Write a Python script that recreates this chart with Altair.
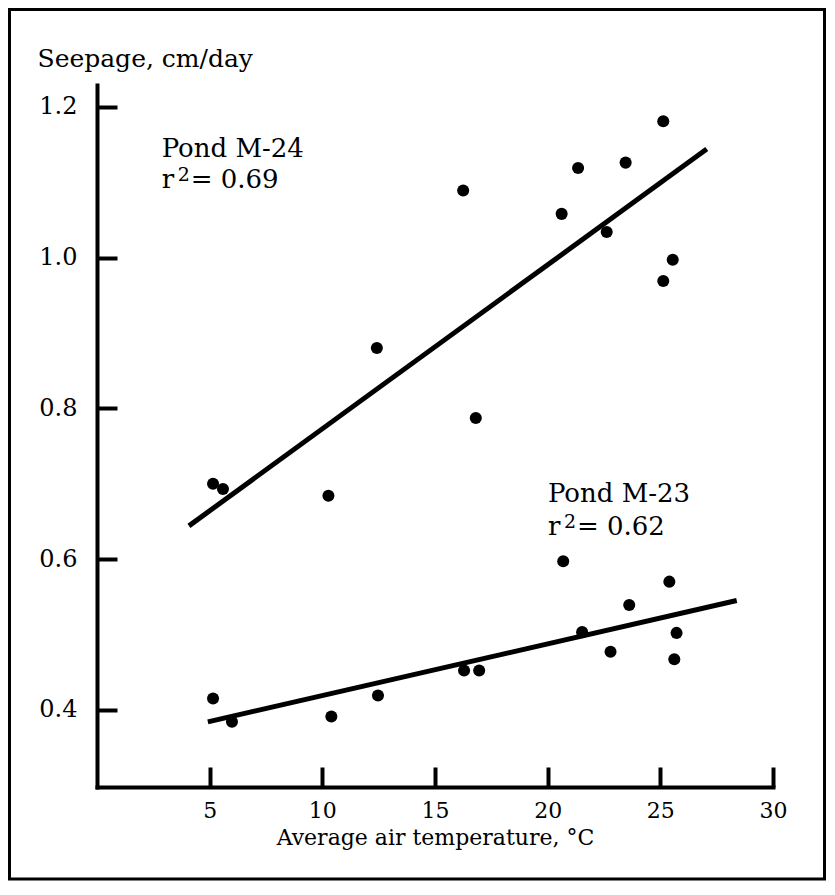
import altair as alt
import pandas as pd

# ---- data ----
m24_temp = [5.15, 5.59, 10.27, 12.42, 16.25, 16.81, 20.62, 21.35, 22.62, 23.46, 25.13, 25.13, 25.55]
m24_seep = [0.700, 0.693, 0.684, 0.880, 1.089, 0.787, 1.058, 1.119, 1.034, 1.126, 1.181, 0.969, 0.997]
m23_temp = [5.15, 5.99, 10.40, 12.47, 16.29, 16.96, 20.69, 21.53, 22.79, 23.62, 25.40, 25.72, 25.62]
m23_seep = [0.415, 0.384, 0.391, 0.419, 0.452, 0.452, 0.597, 0.503, 0.477, 0.539, 0.570, 0.502, 0.467]

m24_fit_temp = [4.08, 27.06]
m24_fit_seep = [0.644, 1.144]
m23_fit_temp = [4.92, 28.39]
m23_fit_seep = [0.384, 0.545]

x_ticks = [5, 10, 15, 20, 25, 30]
y_ticks = [0.4, 0.6, 0.8, 1.0, 1.2]

pond_names = ["Pond M-24", "Pond M-23"]
r2_values = ["= 0.69", "= 0.62"]
label_temp = [2.87, 20.01]
label_seep_1 = [1.133, 0.676]
label_seep_2 = [1.092, 0.632]

FONT = "DejaVu Serif"

points = pd.DataFrame({
    "temp": m24_temp + m23_temp,
    "seep": m24_seep + m23_seep,
    "pond": ["M-24"] * len(m24_temp) + ["M-23"] * len(m23_temp),
})
fits = pd.DataFrame({
    "temp": m24_fit_temp + m23_fit_temp,
    "seep": m24_fit_seep + m23_fit_seep,
    "pond": ["M-24"] * 2 + ["M-23"] * 2,
})
labels = pd.DataFrame({
    "temp": label_temp,
    "seep1": label_seep_1,
    "seep2": label_seep_2,
    "name": pond_names,
    "r2": r2_values,
    "r": ["r", "r"],
    "sup": ["2", "2"],
})

xs = alt.Scale(domain=[0, 30], nice=False, zero=False)
ys = alt.Scale(domain=[0.2975, 1.229], nice=False, zero=False)

main_x_axis = alt.Axis(
    orient="bottom", values=x_ticks, ticks=False, tickSize=0, grid=False,
    domainColor="black", domainWidth=4, domainCap="square",
    labelFont=FONT, labelFontSize=22, labelColor="black", labelPadding=13,
    labelFlush=False, format="d",
    title="Average air temperature, °C", titleFont=FONT, titleFontSize=22,
    titleFontWeight="normal", titleColor="black", titleY=57,
    titleBaseline="alphabetic",
)
main_y_axis = alt.Axis(
    orient="left", values=y_ticks, ticks=False, tickSize=0, grid=False,
    domainColor="black", domainWidth=4, domainCap="square",
    labelFont=FONT, labelFontSize=24, labelColor="black", labelPadding=20,
    labelFlush=False, format=".1f",
    title="Seepage, cm/day", titleFont=FONT, titleFontSize=25,
    titleFontWeight="normal", titleColor="black", titleAngle=0,
    titleAlign="left", titleBaseline="alphabetic", titleX=-60, titleY=-19,
)
tick_x_axis = alt.Axis(
    orient="bottom", offset=-20, values=x_ticks, tickSize=20, tickWidth=4,
    tickColor="black", domain=False, labels=False, grid=False, title="",
)
tick_y_axis = alt.Axis(
    orient="left", offset=-20, values=y_ticks, tickSize=20, tickWidth=4,
    tickColor="black", domain=False, labels=False, grid=False, title="",
)

pts = alt.Chart(points).mark_circle(size=145, color="black", opacity=1).encode(
    x=alt.X("temp:Q", scale=xs, axis=main_x_axis),
    y=alt.Y("seep:Q", scale=ys, axis=main_y_axis),
)

lines = alt.Chart(fits).mark_line(color="black", strokeWidth=5).encode(
    x=alt.X("temp:Q", scale=xs, axis=tick_x_axis),
    y=alt.Y("seep:Q", scale=ys, axis=tick_y_axis),
    detail="pond:N",
)

base_txt = alt.Chart(labels)
name_txt = base_txt.mark_text(align="left", baseline="alphabetic", font=FONT,
                              fontSize=26, color="black").encode(
    x=alt.X("temp:Q", scale=xs, axis=None),
    y=alt.Y("seep1:Q", scale=ys, axis=None),
    text="name:N",
)
r_txt = base_txt.mark_text(align="left", baseline="alphabetic", font=FONT,
                           fontSize=26, color="black").encode(
    x=alt.X("temp:Q", scale=xs, axis=None),
    y=alt.Y("seep2:Q", scale=ys, axis=None),
    text="r:N",
)
sup_txt = base_txt.mark_text(align="left", baseline="alphabetic", font=FONT,
                             fontSize=19, color="black", dx=16, dy=-7).encode(
    x=alt.X("temp:Q", scale=xs, axis=None),
    y=alt.Y("seep2:Q", scale=ys, axis=None),
    text="sup:N",
)
eq_txt = base_txt.mark_text(align="left", baseline="alphabetic", font=FONT,
                            fontSize=26, color="black", dx=29).encode(
    x=alt.X("temp:Q", scale=xs, axis=None),
    y=alt.Y("seep2:Q", scale=ys, axis=None),
    text="r2:N",
)

frame = alt.Chart(pd.DataFrame({"dummy": [0]})).mark_rect(
    filled=False, stroke="black", strokeWidth=3
).encode(
    x=alt.value(-87.5), x2=alt.value(727.5),
    y=alt.value(-75.5), y2=alt.value(794),
)

chart = alt.layer(frame, pts, lines, name_txt, r_txt, sup_txt, eq_txt).resolve_axis(
    x="independent", y="independent"
).properties(
    width=676, height=702, padding=0, background="white"
).configure_view(stroke=None)

chart.save("out.html", embed_options={"renderer": "svg", "actions": False})
